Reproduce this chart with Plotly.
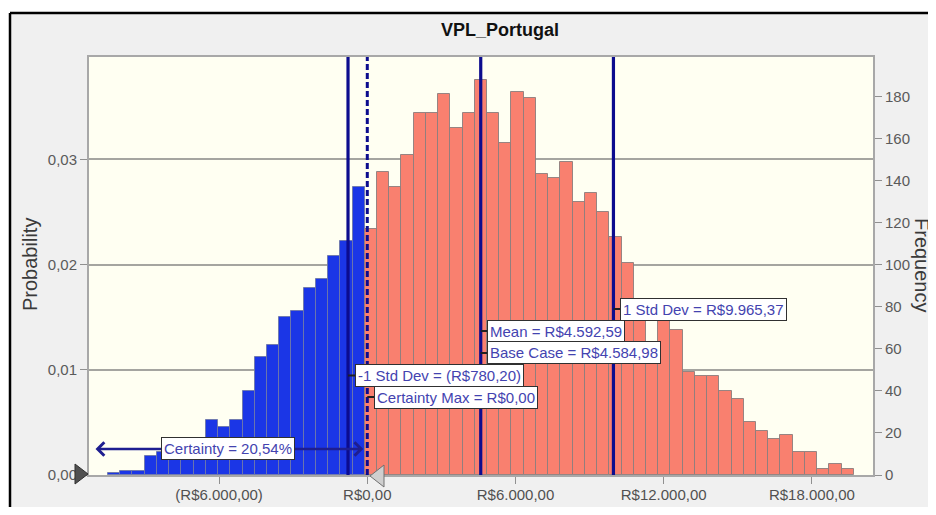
import plotly.graph_objects as go

# ---------------- data ----------------
bin_start = -10497.0          # lower edge of the first histogram bin (R$)
bin_width = 495.0             # width of each bin (R$)
counts = [1, 2, 2, 9, 11, 13, 15, 17, 26, 23, 26, 40, 56, 62, 75, 78, 89, 93, 104, 111, 137,
          117, 144, 137, 152, 172, 172, 181, 165, 172, 188, 172, 158, 182, 179, 143, 141, 149,
          130, 134, 125, 113, 101, 80, 57, 75, 69, 49, 47, 47, 40, 36, 25, 21, 17, 19, 11, 11,
          3, 5, 3]
trials = 5000
certainty_max = 0.0
certainty_pct = "20,54%"
mean_val = 4592.59
base_case = 4584.98
sd_minus = -780.20
sd_plus = 9965.37

x_tick_vals = [-6000, 0, 6000, 12000, 18000]
x_tick_text = ["(R$6.000,00)", "R$0,00", "R$6.000,00", "R$12.000,00", "R$18.000,00"]
prob_ticks = [0.0, 0.01, 0.02, 0.03]
prob_tick_text = ["0,00", "0,01", "0,02", "0,03"]
freq_ticks = list(range(0, 181, 20))

label_mean = "Mean = R$4.592,59"
label_base = "Base Case = R$4.584,98"
label_sdm = "-1 Std Dev = (R$780,20)"
label_sdp = "1 Std Dev = R$9.965,37"
label_cmax = "Certainty Max = R$0,00"
label_cert = "Certainty = " + certainty_pct

# ---------------- layout geometry ----------------
# the page body has an 8px margin, so the figure is drawn 8px right/down
OFF = 8
W, H = 928, 499
L, R, T, B = 89, 873, 57, 475          # plot area in screenshot pixels
PW, PH = R - L, B - T
x_range = [-11267, 20474]
freq_top = 198.7

def px_x(px):
    return (px - L) / PW

def px_y(py):
    return (B - py) / PH

xs_per_px = (x_range[1] - x_range[0]) / PW

centers = [bin_start + bin_width * (i + 0.5) for i in range(len(counts))]
uppers = [bin_start + bin_width * (i + 1) for i in range(len(counts))]
blue_x = [c for c, u in zip(centers, uppers) if u <= certainty_max]
blue_y = [n for n, u in zip(counts, uppers) if u <= certainty_max]
red_x = [c for c, u in zip(centers, uppers) if u > certainty_max]
red_y = [n for n, u in zip(counts, uppers) if u > certainty_max]

BLUE = "#1b36e6"
SALMON = "#f9806f"
NAVY = "#0c0c8e"
TXT = "#4343b0"

fig = go.Figure()
fig.add_trace(go.Bar(x=blue_x, y=blue_y, width=bin_width, marker_color=BLUE,
                     marker_line=dict(color="rgba(110,120,170,0.9)", width=1),
                     yaxis="y", showlegend=False, hoverinfo="skip"))
fig.add_trace(go.Bar(x=red_x, y=red_y, width=bin_width, marker_color=SALMON,
                     marker_line=dict(color="rgba(140,125,125,0.9)", width=1),
                     yaxis="y2", showlegend=False, hoverinfo="skip"))

font_main = "Liberation Sans, Arial, sans-serif"

fig.update_layout(
    width=W, height=H,
    margin=dict(l=L - OFF, r=W - (R - OFF), t=T - OFF, b=H - (B - OFF), pad=0,
                autoexpand=False),
    paper_bgcolor="#f0f0f0",
    plot_bgcolor="#fffff2",
    bargap=0,
    font=dict(family=font_main, size=15, color="#555555"),
    xaxis=dict(range=x_range, tickvals=x_tick_vals, ticktext=x_tick_text,
               ticks="outside", ticklen=7, tickcolor="#909090", tickwidth=1,
               ticklabelstandoff=-2,
               showgrid=False, zeroline=False, showline=True, linecolor="#a8a8a8",
               linewidth=2, mirror=True, automargin=False,
               tickfont=dict(size=15, color="#505050")),
    yaxis=dict(range=[0, freq_top], tickvals=[p * trials for p in prob_ticks],
               ticktext=prob_tick_text, ticks="outside", ticklen=7,
               tickcolor="#909090", showgrid=True, gridcolor="#a5a5a0", gridwidth=1.5,
               zeroline=False, showline=True, linecolor="#a8a8a8", linewidth=2,
               automargin=False, tickfont=dict(size=15, color="#5a5a5a")),
    yaxis2=dict(range=[0, freq_top], tickvals=freq_ticks, overlaying="y", side="right",
                ticks="outside", ticklen=7, tickcolor="#909090", showgrid=False,
                zeroline=False, showline=True, linecolor="#a8a8a8", linewidth=2,
                automargin=False, tickfont=dict(size=15, color="#5a5a5a")),
)

shapes = []
# outer frame: white strip above/left, black border line
shapes.append(dict(type="rect", xref="paper", yref="paper", layer="below",
                   x0=px_x(0), x1=px_x(1000), y0=px_y(13), y1=px_y(0),
                   fillcolor="white", line=dict(width=0)))
shapes.append(dict(type="rect", xref="paper", yref="paper", layer="below",
                   x0=px_x(0), x1=px_x(10), y0=px_y(600), y1=px_y(0),
                   fillcolor="white", line=dict(width=0)))
shapes.append(dict(type="line", xref="paper", yref="paper", layer="below",
                   x0=px_x(10), x1=px_x(1000), y0=px_y(13), y1=px_y(13),
                   line=dict(color="black", width=2.5)))
shapes.append(dict(type="line", xref="paper", yref="paper", layer="below",
                   x0=px_x(10), x1=px_x(10), y0=px_y(13), y1=px_y(600),
                   line=dict(color="black", width=2.5)))
# statistic lines
for v in (sd_minus, mean_val, sd_plus):
    shapes.append(dict(type="line", xref="x", yref="paper", x0=v, x1=v, y0=0, y1=1,
                       line=dict(color=NAVY, width=3.2)))
shapes.append(dict(type="line", xref="x", yref="paper", x0=certainty_max, x1=certainty_max,
                   y0=0, y1=1, line=dict(color=NAVY, width=3, dash="6px,3px")))

# labels with connector ticks
labels = [
    (sd_minus, label_sdm, 375.5),
    (certainty_max, label_cmax, 397.0),
    (mean_val, label_mean, 331.0),
    (base_case, label_base, 353.0),
    (sd_plus, label_sdp, 309.0),
]
annotations = []
for v, txt, cy in labels:
    shapes.append(dict(type="line", xref="x", yref="paper", xsizemode="pixel", xanchor=v,
                       x0=0, x1=7, y0=px_y(cy), y1=px_y(cy),
                       line=dict(color="#202020", width=2)))
    annotations.append(dict(x=v, xref="x", y=px_y(cy), yref="paper", text=txt,
                            showarrow=False, xanchor="left", yanchor="middle", xshift=6.5,
                            bgcolor="white", bordercolor="#303030", borderwidth=1,
                            borderpad=2, font=dict(family=font_main, size=15, color=TXT)))

# certainty arrow
annotations.append(dict(x=certainty_max - 4 * xs_per_px, y=px_y(449), xref="x", yref="paper",
                        ax=x_range[0] + 5 * xs_per_px, ay=0, axref="x", ayref="pixel",
                        text="", showarrow=True, arrowhead=4, startarrowhead=4,
                        arrowside="end+start", arrowsize=1, startarrowsize=1,
                        arrowwidth=2.6, arrowcolor="#1e1e90", standoff=0, startstandoff=0))
annotations.append(dict(x=px_x(228), y=px_y(448.3), xref="paper", yref="paper",
                        text=label_cert, showarrow=False, xanchor="center", yanchor="middle",
                        bgcolor="white", bordercolor="#303030", borderwidth=1, borderpad=2,
                        font=dict(family=font_main, size=15, color=TXT)))

# certainty grabbers (triangles)
shapes.append(dict(type="path", xref="paper", yref="paper", xsizemode="pixel",
                   ysizemode="pixel", xanchor=px_x(75), yanchor=px_y(474),
                   path="M 0 -10 L 13 0 L 0 10 Z", fillcolor="#505050",
                   line=dict(color="#303030", width=1)))
shapes.append(dict(type="path", xref="paper", yref="paper", xsizemode="pixel",
                   ysizemode="pixel", xanchor=px_x(370), yanchor=px_y(476),
                   path="M 0 0 L 14 -11 L 14 11 Z", fillcolor="#cfcfcf",
                   line=dict(color="#707070", width=1)))

# title and axis titles
annotations.append(dict(x=px_x(500), y=px_y(30), xref="paper", yref="paper",
                        text="<b>VPL_Portugal</b>", showarrow=False,
                        xanchor="center", yanchor="middle",
                        font=dict(family=font_main, size=18, color="#111111")))
annotations.append(dict(x=px_x(30), y=px_y(265), xref="paper", yref="paper",
                        text="Probability", showarrow=False, textangle=-90,
                        xanchor="center", yanchor="middle",
                        font=dict(family=font_main, size=20, color="#3a3a3a")))
annotations.append(dict(x=px_x(922), y=px_y(265), xref="paper", yref="paper",
                        text="Frequency", showarrow=False, textangle=90,
                        xanchor="center", yanchor="middle",
                        font=dict(family=font_main, size=20, color="#3a3a3a")))

fig.update_layout(shapes=shapes, annotations=annotations)
fig.write_html("out.html")
